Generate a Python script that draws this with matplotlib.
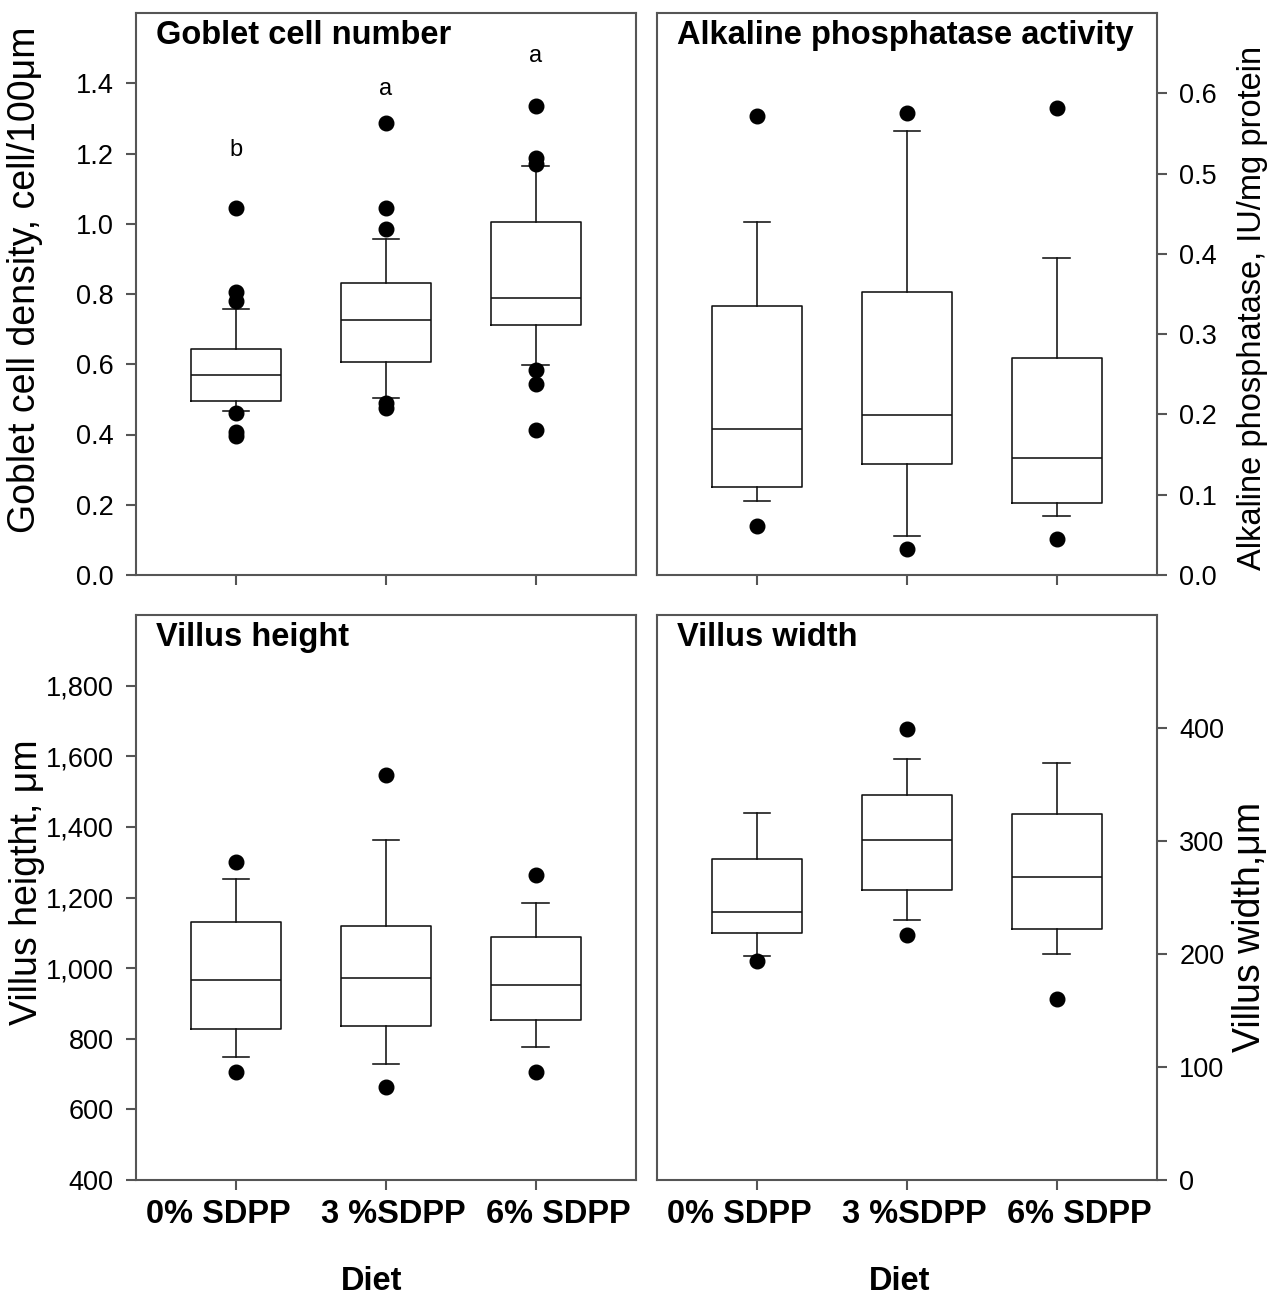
import matplotlib
matplotlib.use('Agg')
import matplotlib.pyplot as plt
from matplotlib.ticker import FuncFormatter
from matplotlib.transforms import ScaledTranslation

plt.rcParams['font.family'] = ['Liberation Sans', 'DejaVu Sans']

# ---------------- data ----------------
diets = ['0% SDPP', '3 %SDPP', '6% SDPP']

# Goblet cell number (cell/100 um)
gob_whislo = [0.467, 0.503, 0.598]
gob_q1 = [0.495, 0.607, 0.711]
gob_med = [0.568, 0.726, 0.790]
gob_q3 = [0.644, 0.830, 1.004]
gob_whishi = [0.758, 0.956, 1.165]
gob_fliers = [[1.045, 0.807, 0.780, 0.461, 0.407, 0.396],
              [1.288, 1.046, 0.985, 0.490, 0.475],
              [1.335, 1.186, 1.171, 0.584, 0.543, 0.412]]
gob_letters = ['b', 'a', 'a']
gob_letter_y = [1.21, 1.384, 1.479]

# Alkaline phosphatase activity (IU/mg protein)
alp_whislo = [0.092, 0.049, 0.073]
alp_q1 = [0.109, 0.138, 0.090]
alp_med = [0.182, 0.199, 0.146]
alp_q3 = [0.335, 0.352, 0.270]
alp_whishi = [0.440, 0.553, 0.395]
alp_fliers = [[0.572, 0.061], [0.576, 0.033], [0.582, 0.045]]

# Villus height (um)
vh_whislo = [748, 728, 776]
vh_q1 = [828, 837, 852]
vh_med = [965, 972, 953]
vh_q3 = [1130, 1120, 1089]
vh_whishi = [1251, 1364, 1185]
vh_fliers = [[1300, 707], [1548, 662], [1263, 707]]

# Villus width (um)
vw_whislo = [198, 230, 200]
vw_q1 = [219, 257, 222]
vw_med = [237, 301, 268]
vw_q3 = [284, 341, 324]
vw_whishi = [325, 373, 369]
vw_fliers = [[194], [399, 217], [160]]

positions = [1, 2, 3]
SPINE = '#555555'

fig = plt.figure(figsize=(12.72, 12.98), dpi=100)

W, H = 1272, 1298
def axes_px(l, r, t, b):
    return fig.add_axes([l / W, (H - b) / H, (r - l) / W, (b - t) / H])

ax_gob = axes_px(136, 636, 13, 575)
ax_alp = axes_px(657, 1157, 13, 575)
ax_vh = axes_px(136, 636, 615, 1180)
ax_vw = axes_px(657, 1157, 615, 1180)


def draw_box(ax, whislo, q1, med, q3, whishi, fliers):
    stats = []
    for i in range(len(positions)):
        stats.append(dict(whislo=whislo[i], q1=q1[i], med=med[i], q3=q3[i],
                          whishi=whishi[i], fliers=fliers[i]))
    lp = dict(color='#111111', linewidth=1.15)
    ax.bxp(stats, positions=positions, widths=0.6, capwidths=0.175,
           boxprops=lp, medianprops=lp, whiskerprops=lp, capprops=lp,
           flierprops=dict(marker='o', markerfacecolor='black',
                           markeredgecolor='black', markersize=10.5),
           showfliers=True)


def style(ax, side, title, ylabel, ysize, label_xy, xlabels):
    for s in ax.spines.values():
        s.set_color(SPINE)
        s.set_linewidth(1.5)
    ax.set_xlim(0.335, 3.67)
    ax.set_xticks(positions)
    ax.tick_params(axis='both', direction='out', length=7, width=1.5,
                   color=SPINE, labelsize=19.5, pad=9)
    if xlabels:
        ax.set_xticklabels(diets, fontsize=23.5, fontweight='bold')
        ax.tick_params(axis='x', pad=7)
        for lab, dx in zip(ax.get_xticklabels(), [-17, 8, 23]):
            lab.set_transform(lab.get_transform() +
                              ScaledTranslation(dx / 100, 0, fig.dpi_scale_trans))
        ax.set_xlabel('Diet', fontsize=23.5, fontweight='bold')
    else:
        ax.set_xticklabels([])
    if side == 'right':
        ax.yaxis.tick_right()
        ax.yaxis.set_label_position('right')
    ax.set_ylabel(ylabel, fontsize=ysize)
    ax.yaxis.set_label_coords(*label_xy)
    ax.text(0.04, 0.988, title, transform=ax.transAxes, fontsize=23.5,
            fontweight='bold', ha='left', va='top')


# Goblet
draw_box(ax_gob, gob_whislo, gob_q1, gob_med, gob_q3, gob_whishi, gob_fliers)
ax_gob.set_ylim(0, 1.6)
ax_gob.set_yticks([0, 0.2, 0.4, 0.6, 0.8, 1.0, 1.2, 1.4])
ax_gob.yaxis.set_major_formatter(FuncFormatter(lambda v, p: f'{v:.1f}'))
style(ax_gob, 'left', 'Goblet cell number', 'Goblet cell density, cell/100\u03bcm',
      27, (-0.186, 0.525), False)
for x, y, t in zip(positions, gob_letter_y, gob_letters):
    ax_gob.text(x, y, t, ha='center', va='center', fontsize=17)

# Alkaline phosphatase
draw_box(ax_alp, alp_whislo, alp_q1, alp_med, alp_q3, alp_whishi, alp_fliers)
ax_alp.set_ylim(0, 0.7)
ax_alp.set_yticks([0, 0.1, 0.2, 0.3, 0.4, 0.5, 0.6])
ax_alp.yaxis.set_major_formatter(FuncFormatter(lambda v, p: f'{v:.1f}'))
style(ax_alp, 'right', 'Alkaline phosphatase activity',
      'Alkaline phosphatase, IU/mg protein', 23.5, (1.16, 0.476), False)

# Villus height
draw_box(ax_vh, vh_whislo, vh_q1, vh_med, vh_q3, vh_whishi, vh_fliers)
ax_vh.set_ylim(400, 2000)
ax_vh.set_yticks([400, 600, 800, 1000, 1200, 1400, 1600, 1800])
ax_vh.yaxis.set_major_formatter(FuncFormatter(lambda v, p: f'{int(v):,}'))
style(ax_vh, 'left', 'Villus height', 'Villus heigtht, \u03bcm',
      27, (-0.182, 0.527), True)
ax_vh.xaxis.set_label_coords(0.472, -0.152)

# Villus width
draw_box(ax_vw, vw_whislo, vw_q1, vw_med, vw_q3, vw_whishi, vw_fliers)
ax_vw.set_ylim(0, 500)
ax_vw.set_yticks([0, 100, 200, 300, 400])
style(ax_vw, 'right', 'Villus width', 'Villus width,\u03bcm',
      27, (1.15, 0.448), True)
ax_vw.xaxis.set_label_coords(0.486, -0.152)

fig.savefig('out.png', dpi=100)
